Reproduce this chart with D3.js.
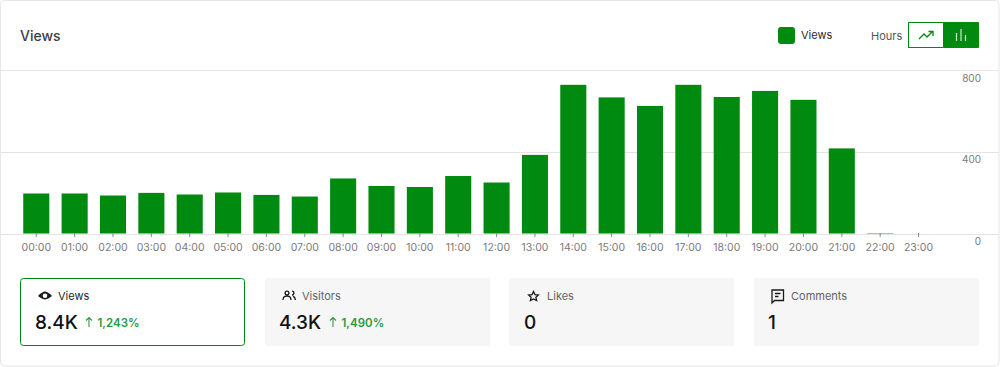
<!DOCTYPE html>
<html>
<head>
<meta charset="utf-8">
<script src="https://cdnjs.cloudflare.com/ajax/libs/d3/7.8.5/d3.min.js"></script>
<style>
  html, body { margin: 0; padding: 0; background: #fff; }
  svg { display: block; font-family: Inter, "Noto Sans", sans-serif; }
</style>
</head>
<body>
<svg id="chart" width="1000" height="367"></svg>
<script>
const hours = ["00:00", "01:00", "02:00", "03:00", "04:00", "05:00", "06:00", "07:00",
  "08:00", "09:00", "10:00", "11:00", "12:00", "13:00", "14:00", "15:00",
  "16:00", "17:00", "18:00", "19:00", "20:00", "21:00", "22:00", "23:00"];
const views = [197, 197, 187, 200, 192, 202, 190, 182, 271, 234, 229, 283,
  251, 387, 732, 670, 628, 732, 672, 702, 658, 419, 2, 0];
const yTicks = [0, 400, 800];

const statNames = ["Views", "Visitors", "Likes", "Comments"];
const statValues = ["8.4K", "4.3K", "0", "1"];
const statChanges = ["1,243%", "1,490%", "", ""];

const green = "#008A10";
const svg = d3.select("#chart");

// Card
svg.append("rect")
  .attr("x", 0.5).attr("y", 0.5)
  .attr("width", 998.5).attr("height", 365.5)
  .attr("rx", 4)
  .attr("fill", "#fff")
  .attr("stroke", "#e6e6e6");

svg.append("text")
  .attr("x", 20).attr("y", 41)
  .attr("font-size", 14).attr("font-weight", 500)
  .attr("fill", "#3c4043")
  .text("Views");

// Legend
svg.append("rect")
  .attr("x", 778).attr("y", 27)
  .attr("width", 17).attr("height", 17).attr("rx", 3)
  .attr("fill", green);
svg.append("text")
  .attr("x", 801).attr("y", 39)
  .attr("font-size", 11)
  .attr("fill", "#2b2b2b")
  .text("Views");
svg.append("text")
  .attr("x", 871).attr("y", 40)
  .attr("font-size", 11)
  .attr("fill", "#50555a")
  .text("Hours");

// Line / bar toggle
svg.append("rect")
  .attr("x", 908.5).attr("y", 22.5)
  .attr("width", 35).attr("height", 25)
  .attr("fill", "#fff").attr("stroke", green);
svg.append("rect")
  .attr("x", 943).attr("y", 22)
  .attr("width", 36).attr("height", 26).attr("rx", 1)
  .attr("fill", green);
svg.append("path")
  .attr("d", "M919 39l5-5 3 3 5.5-5.5M928.5 31.5h4.5v4.5")
  .attr("fill", "none").attr("stroke", green).attr("stroke-width", 1.3);
svg.append("path")
  .attr("d", "M956.500 41v-8M961 41v-12M965.500 41v-6")
  .attr("fill", "none").attr("stroke", "#cfe8d2").attr("stroke-width", 1.2);

svg.append("line")
  .attr("x1", 1).attr("x2", 999)
  .attr("y1", 70.5).attr("y2", 70.5)
  .attr("stroke", "#e6e6e6");

// Scales
const x = d3.scaleBand()
  .domain(hours)
  .range([17.1, 937.7])
  .paddingInner(0.32)
  .paddingOuter(0.16);

const y = d3.scaleLinear()
  .domain([0, 800])
  .range([233.5, 71]);

// Right axis labels
const yAxis = svg.append("g")
  .attr("transform", "translate(981,0)")
  .call(d3.axisRight(y).tickValues(yTicks).tickSize(0).tickPadding(0));
yAxis.select(".domain").remove();
yAxis.selectAll("text")
  .attr("text-anchor", "end")
  .attr("dy", 10.5)
  .attr("x", 0)
  .attr("font-family", "Inter, 'Noto Sans', sans-serif")
  .attr("font-size", 10)
  .attr("fill", "#7a7a7a");

// Gridlines, the header rule already sits at 800
svg.append("g")
  .selectAll("line")
  .data(yTicks.filter(d => d < 800))
  .enter()
  .append("line")
  .attr("x1", 1).attr("x2", 999)
  .attr("y1", d => Math.round(y(d)) + 0.5)
  .attr("y2", d => Math.round(y(d)) + 0.5)
  .attr("stroke", "#e3e3e3");

// Bars
svg.append("g")
  .selectAll("rect")
  .data(views)
  .enter()
  .append("rect")
  .attr("x", (d, i) => x(hours[i]))
  .attr("y", d => y(d))
  .attr("width", x.bandwidth())
  .attr("height", d => y(0) - y(d))
  .attr("fill", green);

// X axis
const xAxis = svg.append("g")
  .attr("transform", "translate(0,233)")
  .call(d3.axisBottom(x).tickSize(4).tickPadding(7));
xAxis.select(".domain").remove();
xAxis.selectAll("line").attr("stroke", "#8a8a8a");
xAxis.selectAll("text")
  .attr("font-family", "Inter, 'Noto Sans', sans-serif")
  .attr("font-size", 10.5)
  .attr("fill", "#7a7a7a");

// Stat tiles
const tileX = d3.scaleOrdinal().domain(statNames).range([20.5, 265, 509, 754]);
const tileW = [224, 225, 225, 225];
const labelX = [58, 302, 547, 791];
const valueX = [35, 279, 524, 768];
const changeX = [89, 333];

const iconPaths = [
  "M38 296c2.500-3 5.500-4.500 7-4.500s4.500 1.500 7 4.500c-2.500 2-4 2.800-7 3.500c-3-.7-4.500-1.500-7-3.500zM45 293.500a2.300 2.300 0 1 0 0 4.600a2.300 2.300 0 1 0 0-4.600z",
  "M283 300c0-2.300 1.800-3.800 4-3.800s4 1.500 4 3.800M287 295a1.900 1.900 0 1 0 0-3.800a1.900 1.900 0 1 0 0 3.800zM292 291.200a1.900 1.900 0 0 1 0 3.800M293 296.400c1.400.4 2.300 1.700 2.300 3.600",
  "M533.500 291.500l1.500 3.100 3.400.4-2.500 2.300.7 3.300-3.100-1.700-3.100 1.700.7-3.300-2.500-2.300 3.400-.4z",
  "M772 290h11.500v10.500h-9l-2.500 2.500zM775 293.500h5.500M775 296.500h3.500"
];

statNames.forEach((name, i) => {
  const active = i === 0;
  const t = svg.append("g");
  t.append("rect")
    .attr("x", tileX(name)).attr("y", active ? 278.5 : 278)
    .attr("width", tileW[i]).attr("height", active ? 67 : 68)
    .attr("rx", 3)
    .attr("fill", active ? "#fff" : "#f6f6f6")
    .attr("stroke", active ? green : "none");
  t.append("path")
    .attr("d", iconPaths[i])
    .attr("fill", active ? "#1a1a1a" : "none")
    .attr("fill-rule", "evenodd")
    .attr("stroke", active ? "none" : "#1a1a1a")
    .attr("stroke-width", 1.3);
  t.append("text")
    .attr("x", labelX[i]).attr("y", 300)
    .attr("font-size", 11)
    .attr("fill", active ? "#1f1f1f" : "#5f6368")
    .text(name);
  t.append("text")
    .attr("x", valueX[i]).attr("y", 329)
    .attr("font-size", 19).attr("font-weight", 500)
    .attr("fill", "#111")
    .text(statValues[i]);
  if (statChanges[i]) {
    t.append("path")
      .attr("d", `M${changeX[i]} 327v-9.500M${changeX[i] - 3} 320.500l3-3 3 3`)
      .attr("fill", "none").attr("stroke", "#2a9a3f").attr("stroke-width", 1.1);
    t.append("text")
      .attr("x", changeX[i] + 8.5).attr("y", 327)
      .attr("font-size", 11.5).attr("font-weight", 600)
      .attr("fill", "#2a9a3f")
      .text(statChanges[i]);
  }
});
</script>
</body>
</html>
